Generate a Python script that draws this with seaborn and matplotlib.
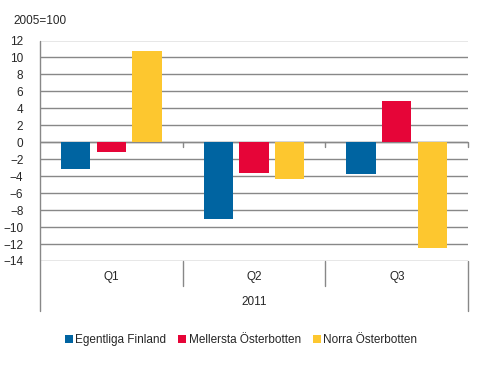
import pandas as pd
import seaborn as sns
import matplotlib.pyplot as plt
from matplotlib.patches import Patch
from matplotlib.lines import Line2D

# data
quarters = ["Q1", "Q2", "Q3"]
regions = ["Egentliga Finland", "Mellersta Österbotten", "Norra Österbotten"]
egentliga = [-3.2, -9.0, -3.8]
mellersta = [-1.1, -3.6, 4.9]
norra = [10.8, -4.3, -12.5]
colors = ["#0064a1", "#e60538", "#fdc72f"]

rows = []
for reg, vals in zip(regions, [egentliga, mellersta, norra]):
    for q, v in zip(quarters, vals):
        rows.append({"quarter": q, "region": reg, "value": v})
df = pd.DataFrame(rows)

sns.set_style("white")
plt.rcParams["font.family"] = ["Liberation Sans", "DejaVu Sans"]

grey = "#888888"
W, H = 483, 369
left, bottom, width, height = 40 / W, 1 - 261 / H, 428 / W, 220.5 / H
fig = plt.figure(figsize=(W / 100, H / 100), dpi=100)
ax = fig.add_axes([left, bottom, width, height])

sns.barplot(data=df, x="quarter", y="value", hue="region", order=quarters,
            hue_order=regions, palette=colors, width=0.75, gap=0.18,
            saturation=1, linewidth=0, ax=ax, legend=False, zorder=3)

ax.set_ylim(-14, 12)
ax.set_xlim(-0.5, 2.5)
ax.set_yticks(range(-14, 13, 2))
ax.yaxis.grid(True, color=grey, linewidth=1)
ax.set_axisbelow(True)
ax.set_xticks([])
ax.set_xlabel("")
ax.set_ylabel("")
for s in ["top", "right", "bottom", "left"]:
    ax.spines[s].set_visible(False)
ax.tick_params(axis="y", length=4, width=1, color=grey, pad=8, labelsize=8.5)
ax.axhline(0, color=grey, linewidth=1, zorder=2)


def fline(x0, y0, x1, y1):
    # line in figure pixels, y counted from the top
    fig.add_artist(Line2D([x0 / W, x1 / W], [1 - y0 / H, 1 - y1 / H],
                          color=grey, linewidth=1, transform=fig.transFigure))


# category axis: left line, outer and inner separators, zero line ticks
fline(40, 40.5, 40, 311)
fline(468, 261, 468, 311)
for xb in [182.7, 325.3]:
    fline(xb, 261, xb, 286)
for xb in [182.7, 325.3, 468]:
    fline(xb, 142.3, xb, 146.5)

for i, q in enumerate(quarters):
    fig.text((40 + 142.7 * (i + 0.5)) / W, 1 - 277 / H, q, ha="center", va="center", fontsize=8.5)
fig.text(254 / W, 1 - 302 / H, "2011", ha="center", va="center", fontsize=8.5)
fig.text(13 / W, 1 - 21 / H, "2005=100", ha="left", va="center", fontsize=8.5)

handles = [Patch(facecolor=c, edgecolor="none") for c in colors]
fig.legend(handles, regions, loc="center", bbox_to_anchor=(241 / W, 1 - 340 / H),
           ncol=3, frameon=False, fontsize=8.5, handlelength=0.7, handleheight=0.7,
           handletextpad=0.2, columnspacing=1.0)

plt.savefig("out.png", dpi=100)
